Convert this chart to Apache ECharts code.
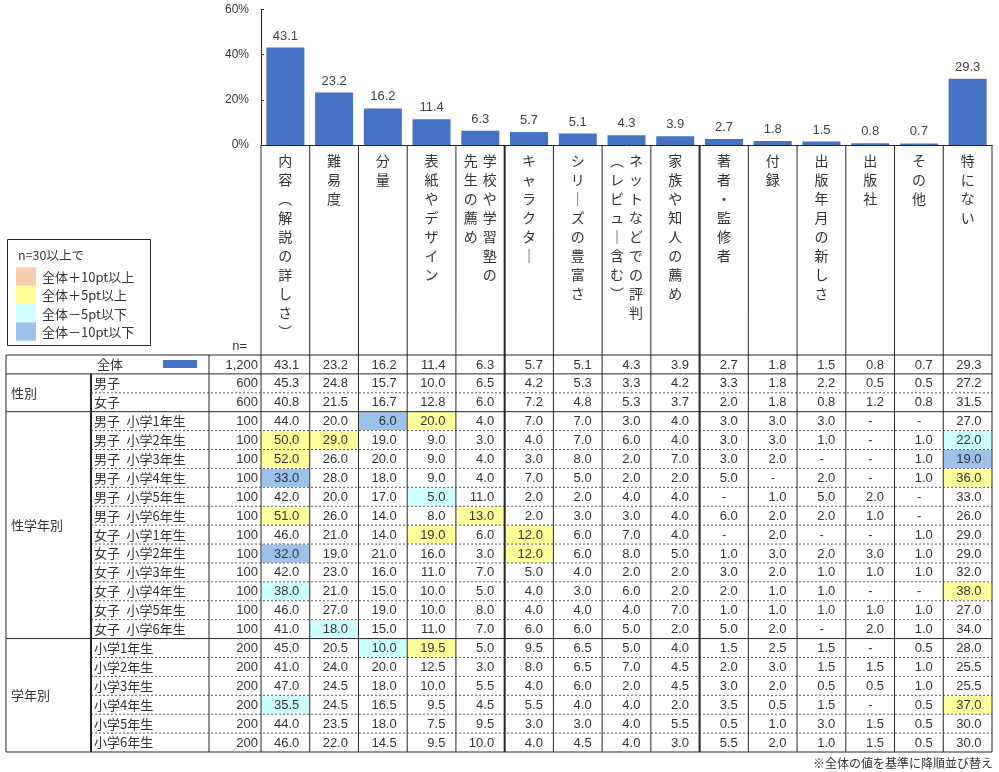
<!DOCTYPE html>
<html><head><meta charset="utf-8">
<script src="https://cdn.jsdelivr.net/npm/echarts@6/dist/echarts.min.js"></script>
<style>html,body{margin:0;padding:0;background:#fff}#c{width:999px;height:772px}</style>
</head><body><div id="c"></div>
<script>
// ---------- data ----------
const categories = ['内容（解説の詳しさ）','難易度','分量','表紙やデザイン','学校や学習塾の先生の薦め','キャラクター','シリーズの豊富さ','ネットなどでの評判（レビュー含む）','家族や知人の薦め','著者・監修者','付録','出版年月の新しさ','出版社','その他','特にない'];
// two-column vertical labels: [right column, left column]
const splitLabels = {4: ['学校や学習塾の','先生の薦め'], 7: ['ネットなどでの評判','（レビュー含む）']};
const yTicks = [0, 20, 40, 60];
const rowLabels = ['全体','男子','女子',
  '男子 小学1年生','男子 小学2年生','男子 小学3年生','男子 小学4年生','男子 小学5年生','男子 小学6年生',
  '女子 小学1年生','女子 小学2年生','女子 小学3年生','女子 小学4年生','女子 小学5年生','女子 小学6年生',
  '小学1年生','小学2年生','小学3年生','小学4年生','小学5年生','小学6年生'];
const rowN = [1200,600,600,100,100,100,100,100,100,100,100,100,100,100,100,200,200,200,200,200,200];
const groups = [
  {name:'性別', start:1, end:2},
  {name:'性学年別', start:3, end:14},
  {name:'学年別', start:15, end:20}
];
const _ = null;
const rowTotal   = [43.1,23.2,16.2,11.4,6.3,5.7,5.1,4.3,3.9,2.7,1.8,1.5,0.8,0.7,29.3];
const rowBoys    = [45.3,24.8,15.7,10.0,6.5,4.2,5.3,3.3,4.2,3.3,1.8,2.2,0.5,0.5,27.2];
const rowGirls   = [40.8,21.5,16.7,12.8,6.0,7.2,4.8,5.3,3.7,2.0,1.8,0.8,1.2,0.8,31.5];
const rowB1 = [44.0,20.0,6.0,20.0,4.0,7.0,7.0,3.0,4.0,3.0,3.0,3.0,_,_,27.0];
const rowB2 = [50.0,29.0,19.0,9.0,3.0,4.0,7.0,6.0,4.0,3.0,3.0,1.0,_,1.0,22.0];
const rowB3 = [52.0,26.0,20.0,9.0,4.0,3.0,8.0,2.0,7.0,3.0,2.0,_,_,1.0,19.0];
const rowB4 = [33.0,28.0,18.0,9.0,4.0,7.0,5.0,2.0,2.0,5.0,_,2.0,_,1.0,36.0];
const rowB5 = [42.0,20.0,17.0,5.0,11.0,2.0,2.0,4.0,4.0,_,1.0,5.0,2.0,_,33.0];
const rowB6 = [51.0,26.0,14.0,8.0,13.0,2.0,3.0,3.0,4.0,6.0,2.0,2.0,1.0,_,26.0];
const rowG1 = [46.0,21.0,14.0,19.0,6.0,12.0,6.0,7.0,4.0,_,2.0,_,_,1.0,29.0];
const rowG2 = [32.0,19.0,21.0,16.0,3.0,12.0,6.0,8.0,5.0,1.0,3.0,2.0,3.0,1.0,29.0];
const rowG3 = [42.0,23.0,16.0,11.0,7.0,5.0,4.0,2.0,2.0,3.0,2.0,1.0,1.0,1.0,32.0];
const rowG4 = [38.0,21.0,15.0,10.0,5.0,4.0,3.0,6.0,2.0,2.0,1.0,1.0,_,_,38.0];
const rowG5 = [46.0,27.0,19.0,10.0,8.0,4.0,4.0,4.0,7.0,1.0,1.0,1.0,1.0,1.0,27.0];
const rowG6 = [41.0,18.0,15.0,11.0,7.0,6.0,6.0,5.0,2.0,5.0,2.0,_,2.0,1.0,34.0];
const rowY1 = [45.0,20.5,10.0,19.5,5.0,9.5,6.5,5.0,4.0,1.5,2.5,1.5,_,0.5,28.0];
const rowY2 = [41.0,24.0,20.0,12.5,3.0,8.0,6.5,7.0,4.5,2.0,3.0,1.5,1.5,1.0,25.5];
const rowY3 = [47.0,24.5,18.0,10.0,5.5,4.0,6.0,2.0,4.5,3.0,2.0,0.5,0.5,1.0,25.5];
const rowY4 = [35.5,24.5,16.5,9.5,4.5,5.5,4.0,4.0,2.0,3.5,0.5,1.5,_,0.5,37.0];
const rowY5 = [44.0,23.5,18.0,7.5,9.5,3.0,3.0,4.0,5.5,0.5,1.0,3.0,1.5,0.5,30.0];
const rowY6 = [46.0,22.0,14.5,9.5,10.0,4.0,4.5,4.0,3.0,5.5,2.0,1.0,1.5,0.5,30.0];
const tableValues = [rowTotal,rowBoys,rowGirls,rowB1,rowB2,rowB3,rowB4,rowB5,rowB6,rowG1,rowG2,rowG3,rowG4,rowG5,rowG6,rowY1,rowY2,rowY3,rowY4,rowY5,rowY6];
const barValues = rowTotal;
const legendLabels = ['全体＋10pt以上','全体＋5pt以上','全体－5pt以下','全体－10pt以下'];
const legendTitle = 'n=30以上で';
const footnote = '※全体の値を基準に降順並び替え';

// ---------- styles ----------
const C_BAR = '#4472C4';
const C_TEXT = '#333333';
const C_LINE = '#262626';
const HL = ['#F8CBAD','#FFFF99','#CCFFFF','#9CC2EC'];
const JP = "'Noto Sans CJK JP','Noto Sans',sans-serif";
const NUM = "'Liberation Sans',Arial,sans-serif";

function highlight(r, c) {
  if (r === 0 || rowN[r] < 30) return null;
  const v = tableValues[r][c] == null ? 0 : tableValues[r][c];
  const d = Math.round((v - rowTotal[c]) * 10) / 10;
  if (d >= 10) return HL[0];
  if (d >= 5) return HL[1];
  if (d <= -10) return HL[3];
  if (d <= -5) return HL[2];
  return null;
}

const toV = ch => ch === 'ー' ? '｜' : ch === '（' ? '︵' : ch === '）' ? '︶' : ch;

function catLabel(value, idx) {
  const sp = splitLabels[idx];
  if (sp) {
    const r = Array.from(sp[0]), l = Array.from(sp[1]);
    const n = Math.max(r.length, l.length), lines = [];
    for (let i = 0; i < n; i++) lines.push('{c|' + toV(l[i] || '　') + '}{c|' + toV(r[i] || '　') + '}');
    return lines.join('\n');
  }
  return Array.from(value).map(ch => '{s|' + toV(ch) + '}').join('\n');
}

const cellData = [];
tableValues.forEach((row, r) => row.forEach((v, c) => cellData.push([c, r])));

function renderCell(params, api) {
  const c = api.value(0), r = api.value(1);
  const p = api.coord([c, r]);
  const sz = api.size([1, 1]);
  const x0 = p[0] - sz[0] / 2, y0 = p[1] - sz[1] / 2;
  const v = tableValues[r][c];
  const kids = [];
  const col = highlight(r, c);
  if (col) kids.push({type: 'rect', shape: {x: x0 + 0.5, y: y0 + 0.5, width: sz[0] - 1, height: sz[1] - 1}, style: {fill: col}});
  kids.push({type: 'text', style: {
    text: v == null ? '-' : v.toFixed(1),
    x: v == null ? x0 + sz[0] - 22 : x0 + sz[0] - 10.5, y: p[1] + 0.5,
    align: 'right', verticalAlign: 'middle', fill: C_TEXT, fontSize: 13, fontFamily: NUM}});
  return {type: 'group', children: kids};
}

function renderTable(params, api) {
  const cs = params.coordSys;
  const L = cs.x, R = cs.x + cs.width, T = cs.y, B = cs.y + cs.height;
  const sz = api.size([1, 1]);
  const bw = sz[0], bh = sz[1];
  const tableLeft = L - 255, groupX = L - 170, nX = L - 52, headTop = T - 210;
  const kids = [];
  const line = (x1, y1, x2, y2, w, dash) => kids.push({type: 'line', shape: {x1, y1, x2, y2},
    style: {stroke: dash ? '#555' : C_LINE, lineWidth: w, lineDash: dash ? [2, 2] : null}});
  const text = (t, x, y, align, font, size) => kids.push({type: 'text', style: {text: t, x, y,
    align, verticalAlign: 'middle', fill: C_TEXT, fontSize: size || 13, fontFamily: font}});
  const groupEnds = [0].concat(groups.map(g => g.end));
  for (let r = 0; r < rowLabels.length; r++) {
    const cy = api.coord([0, r])[1];
    const y0 = cy - bh / 2, y1 = cy + bh / 2;
    if (r === 0) line(tableLeft, y0, R, y0, 1);
    if (groupEnds.indexOf(r) >= 0) line(tableLeft, y1, R, y1, 1);
    else line(groupX, y1, R, y1, 1, true);
    if (r === 0) {
      text(rowLabels[r], tableLeft + 91, cy, 'left', JP);
      kids.push({type: 'rect', shape: {x: tableLeft + 157, y: cy - 4.5, width: 34, height: 8}, style: {fill: C_BAR}});
    } else {
      text(rowLabels[r].replace(' ', '\u2002'), groupX + 3, cy, 'left', JP);
    }
    text(rowN[r].toLocaleString('en-US'), nX + 49, cy + 0.5, 'right', NUM);
  }
  groups.forEach(g => {
    const ya = api.coord([0, g.start])[1], yb = api.coord([0, g.end])[1];
    text(g.name, tableLeft + 5, (ya + yb) / 2, 'left', JP);
  });
  line(tableLeft, T, tableLeft, B, 1);
  line(nX, T, nX, B, 1);
  line(groupX, T + bh, groupX, B, 2);
  for (let c = 0; c <= categories.length; c++) {
    const x = c < categories.length ? api.coord([c, 0])[0] - bw / 2 : R;
    line(x, headTop, x, B, (c === 5 || c === 9) ? 2 : 1);
  }
  return {type: 'group', children: kids};
}

const chart = echarts.init(document.getElementById('c'), null, {renderer: 'canvas'});
const legendGraphics = [
  {type: 'rect', shape: {x: 7.5, y: 239.5, width: 143, height: 106}, style: {fill: '#fff', stroke: C_LINE, lineWidth: 1}},
  {type: 'text', x: 18, y: 255, style: {text: legendTitle, fill: C_TEXT, fontSize: 12.5, fontFamily: JP, verticalAlign: 'middle'}}
];
legendLabels.forEach((t, i) => {
  legendGraphics.push({type: 'rect', shape: {x: 16, y: 267.5 + i * 18.3, width: 20, height: 18.3}, style: {fill: HL[i]}});
  legendGraphics.push({type: 'text', x: 42, y: 277 + i * 18.3, style: {text: t, fill: C_TEXT, fontSize: 13, fontFamily: JP, verticalAlign: 'middle'}});
});

chart.setOption({
  animation: false,
  textStyle: {fontFamily: JP, color: C_TEXT},
  graphic: legendGraphics.concat([
    {type: 'text', x: 247, y: 346, style: {text: 'n=', fill: C_TEXT, fontSize: 13, fontFamily: NUM, align: 'right', verticalAlign: 'middle'}},
    {type: 'text', x: 993, y: 763, style: {text: footnote, fill: C_TEXT, fontSize: 12, fontFamily: JP, align: 'right', verticalAlign: 'middle'}}
  ]),
  grid: [
    {left: 261, right: 7, top: 9.4, bottom: 627, containLabel: false},
    {left: 261, right: 7, top: 355, bottom: 20, containLabel: false}
  ],
  xAxis: [
    {type: 'category', gridIndex: 0, data: categories,
      axisLine: {show: true, lineStyle: {color: C_LINE, width: 1}},
      axisTick: {show: false},
      axisLabel: {interval: 0, margin: 6, formatter: catLabel, color: C_TEXT,
        rich: {
          s: {fontSize: 14, lineHeight: 19, fontFamily: JP, color: C_TEXT, align: 'center'},
          c: {fontSize: 14, lineHeight: 19, width: 19, fontFamily: JP, color: C_TEXT, align: 'center'}
        }}},
    {type: 'category', gridIndex: 1, data: categories, show: false}
  ],
  yAxis: [
    {type: 'value', gridIndex: 0, min: yTicks[0], max: yTicks[yTicks.length - 1], interval: 20,
      axisLine: {show: true, lineStyle: {color: C_LINE, width: 1}},
      axisTick: {show: true, inside: true, length: 3, lineStyle: {color: C_LINE}},
      splitLine: {show: false},
      axisLabel: {formatter: '{value}%', fontSize: 12, fontFamily: NUM, color: C_TEXT, margin: 12}},
    {type: 'category', gridIndex: 1, data: rowLabels, inverse: true, show: false}
  ],
  series: [
    {type: 'bar', xAxisIndex: 0, yAxisIndex: 0, data: barValues, barCategoryGap: '22%',
      itemStyle: {color: C_BAR},
      label: {show: true, position: 'top', distance: 5, fontSize: 13, fontFamily: NUM, color: '#404040',
        formatter: p => p.value.toFixed(1)}},
    {type: 'custom', xAxisIndex: 1, yAxisIndex: 1, data: cellData, renderItem: renderCell, clip: false, z: 2, silent: true},
    {type: 'custom', xAxisIndex: 1, yAxisIndex: 1, data: [[0, 0]], renderItem: renderTable, clip: false, z: 3, silent: true}
  ]
});
</script></body></html>
